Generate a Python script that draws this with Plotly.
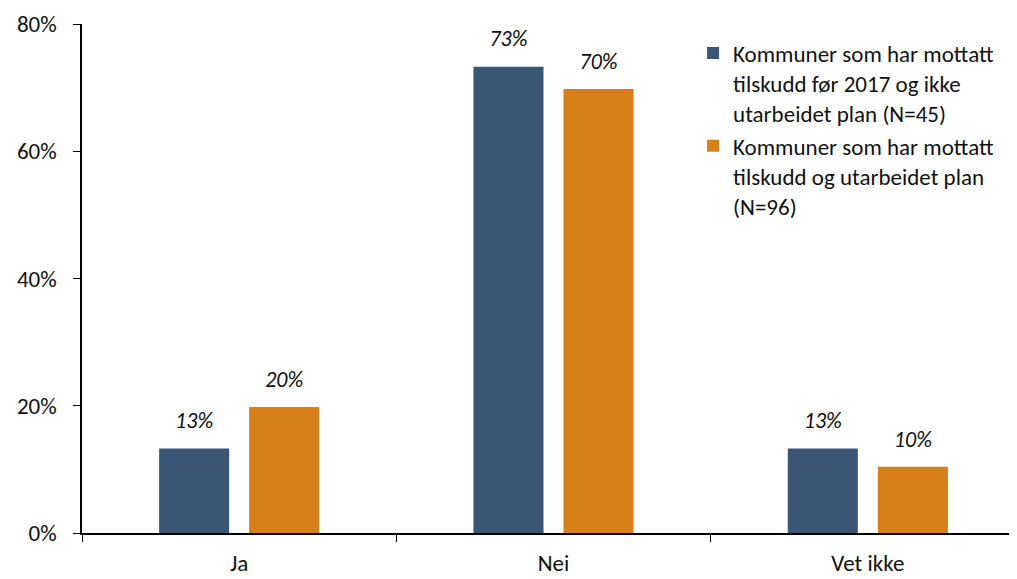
import plotly.graph_objects as go

categories = ["Ja", "Nei", "Vet ikke"]
series_names = [
    "Kommuner som har mottatt<br>tilskudd før 2017 og ikke<br>utarbeidet plan (N=45)",
    "Kommuner som har mottatt<br>tilskudd og utarbeidet plan<br>(N=96)",
]
values_before_2017 = [13.3, 73.3, 13.3]
values_with_plan = [19.8, 69.8, 10.4]
colors = ["#3a5674", "#d77f19"]
y_ticks = [0, 20, 40, 60, 80]

font_family = "Carlito, Lato, 'Open Sans', sans-serif"

fig = go.Figure()
for name, vals, col in zip(series_names, [values_before_2017, values_with_plan], colors):
    fig.add_trace(go.Bar(
        x=categories,
        y=vals,
        name=name,
        marker=dict(color=col, line=dict(width=0)),
    ))

# value labels: grouped scatter traces so they sit over their bars,
# invisible markers give the gap above the bar top
for vals in [values_before_2017, values_with_plan]:
    fig.add_trace(go.Scatter(
        x=categories,
        y=vals,
        mode="markers+text",
        marker=dict(size=22, opacity=0),
        text=[f"{v:.0f}%" for v in vals],
        textposition="top center",
        textfont=dict(size=22, color="#111111", style="italic"),
        showlegend=False,
        hoverinfo="skip",
        cliponaxis=False,
    ))

fig.update_layout(
    width=1017,
    height=579,
    barmode="group",
    bargap=0.427,
    bargroupgap=0.222,
    scattermode="group",
    scattergap=0.427,
    plot_bgcolor="white",
    paper_bgcolor="white",
    font=dict(family=font_family, size=23, color="#111111"),
    margin=dict(l=74, r=0, t=16, b=54),
    legend=dict(
        x=0.648, y=0.985, xanchor="left", yanchor="top",
        font=dict(size=23),
        valign="top",
        itemwidth=30,
        tracegroupgap=4,
        bgcolor="rgba(0,0,0,0)",
    ),
    xaxis=dict(
        range=[-0.5, 2.5],
        showline=True, linecolor="black", linewidth=1.5,
        ticks="outside", tickson="boundaries", ticklen=7, tickcolor="black",
        ticklabelstandoff=9,
        tickfont=dict(size=23),
    ),
    yaxis=dict(
        range=[0, 80],
        tickvals=y_ticks,
        ticktext=[f"{t}%" for t in y_ticks],
        showgrid=False, zeroline=False,
        showline=True, linecolor="black", linewidth=1.5,
        ticks="outside", ticklen=7, tickcolor="black",
        ticklabelstandoff=12,
        tickfont=dict(size=23),
    ),
)

fig.write_html("out.html")
